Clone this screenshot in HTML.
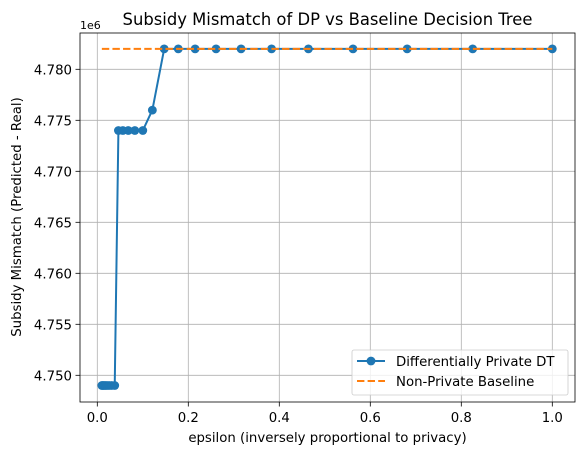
<!DOCTYPE html>
<html><head><meta charset="utf-8"><style>
body{margin:0;background:#fff;font-family:"Liberation Sans","DejaVu Sans",sans-serif;}
svg text{font-family:"DejaVu Sans","Liberation Sans",sans-serif;}
</style></head><body>
<svg id="chart" width="584" height="455" xmlns="http://www.w3.org/2000/svg"></svg>
<script>
const epsilons=[0.01,0.0121,0.0147,0.0178,0.0215,0.0261,0.0316,0.0383,0.0464,0.0562,0.0681,0.0825,0.1,0.121,0.147,0.178,0.215,0.261,0.316,0.383,0.464,0.562,0.681,0.825,1.0];
const mismatch=[4.749,4.749,4.749,4.749,4.749,4.749,4.749,4.749,4.774,4.774,4.774,4.774,4.774,4.776,4.782,4.782,4.782,4.782,4.782,4.782,4.782,4.782,4.782,4.782,4.782];
const baseline=[4.782];
const xTicks=[0,0.2,0.4,0.6,0.8,1.0];
const xTickLabels=["0.0","0.2","0.4","0.6","0.8","1.0"];
const yTicks=[4.750,4.755,4.760,4.765,4.770,4.775,4.780];
const yTickLabels=["4.750","4.755","4.760","4.765","4.770","4.775","4.780"];
const L=80,R=575,T=33,B=402;
const xs=v=>97.3+v*455;
const ys=v=>69.3+(4.780-v)/0.005*51;
const svg=document.getElementById('chart');
const NS='http://www.w3.org/2000/svg';
function mk(tag,attrs,parent){const e=document.createElementNS(NS,tag);for(const k in attrs)e.setAttribute(k,attrs[k]);(parent||svg).appendChild(e);return e;}
const grid=mk('g',{});


xTicks.forEach((t,i)=>{
 mk('line',{x1:xs(t),x2:xs(t),y1:T,y2:B,stroke:'#b0b0b0','stroke-width':0.8},grid);
 mk('line',{x1:xs(t),x2:xs(t),y1:B,y2:B+4.5,stroke:'#000','stroke-width':0.8});
 const tx=mk('text',{x:xs(t),y:B+20,'text-anchor':'middle','font-size':13.3});
 
 
 tx.textContent=xTickLabels[i];
});
yTicks.forEach((t,i)=>{
 mk('line',{x1:L,x2:R,y1:ys(t),y2:ys(t),stroke:'#b0b0b0','stroke-width':0.8},grid);
 mk('line',{x1:L-4.5,x2:L,y1:ys(t),y2:ys(t),stroke:'#000','stroke-width':0.8});
 const tx=mk('text',{x:L-8,y:ys(t)+5,'text-anchor':'end','font-size':13.3});
 
 
 tx.textContent=yTickLabels[i];
});
const pl=mk('polyline',{points:epsilons.map((e,i)=>xs(e)+','+ys(mismatch[i])).join(' '),fill:'none',stroke:'#1f77b4','stroke-width':2});


epsilons.forEach((e,i)=>{
 const c=mk('circle',{cx:xs(e),cy:ys(mismatch[i]),r:4.4,fill:'#1f77b4'});
 
 
});
const bl=mk('line',{x1:xs(epsilons[0]),x2:xs(epsilons[epsilons.length-1]),y1:ys(baseline[0]),y2:ys(baseline[0]),stroke:'#ff7f0e','stroke-width':2,'stroke-dasharray':'7.4,3.2'});


const fr=mk('rect',{x:L,y:T,width:R-L,height:B-T,fill:'none',stroke:'#000','stroke-width':0.8});


const ex=mk('text',{x:L,y:T-4,'font-size':11});


ex.textContent='1e6';
const ti=mk('text',{x:(L+R)/2,y:T-8,'text-anchor':'middle','font-size':16.4});


ti.textContent='Subsidy Mismatch of DP vs Baseline Decision Tree';
const xl=mk('text',{x:(L+R)/2,y:442,'text-anchor':'middle','font-size':13.3});


xl.textContent='epsilon (inversely proportional to privacy)';
const yl=mk('text',{x:0,y:0,'text-anchor':'middle','font-size':13.3,transform:'translate(21,217) rotate(-90)'});


yl.textContent='Subsidy Mismatch (Predicted - Real)';
const lg=mk('g',{});


mk('rect',{x:352,y:350,width:216,height:45,rx:2,fill:'#fff','fill-opacity':0.8,stroke:'#ccc','stroke-width':0.8},lg);
mk('line',{x1:357,x2:385,y1:361,y2:361,stroke:'#1f77b4','stroke-width':2},lg);
mk('circle',{cx:371,cy:361,r:4.4,fill:'#1f77b4'},lg);
const t1=mk('text',{x:396,y:366,'font-size':13.3},lg);


t1.textContent='Differentially Private DT';
mk('line',{x1:357,x2:385,y1:381,y2:381,stroke:'#ff7f0e','stroke-width':2,'stroke-dasharray':'7.4,3.2'},lg);
const t2=mk('text',{x:396,y:386,'font-size':13.3},lg);


t2.textContent='Non-Private Baseline';
</script>
</body></html>
